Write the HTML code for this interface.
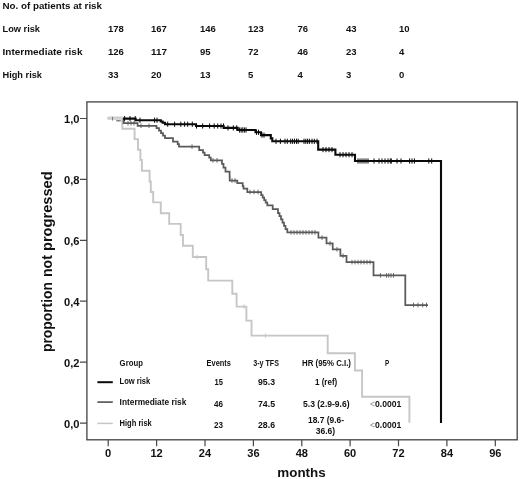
<!DOCTYPE html>
<html><head><meta charset="utf-8"><title>Kaplan-Meier</title>
<style>html,body{margin:0;padding:0;background:#fff}body{width:520px;height:479px;overflow:hidden}svg{display:block}</style>
</head><body>
<svg width="520" height="479" viewBox="0 0 520 479" font-family="Liberation Sans, Arial, sans-serif">
<rect x="0" y="0" width="520" height="479" fill="#fff"/>
<rect x="86.9" y="101.9" width="430.3" height="337.9" fill="none" stroke="#484848" stroke-width="1.35"/>
<path d="M80,118.5H86.9M80,179.4H86.9M80,240.3H86.9M80,301.2H86.9M80,362.2H86.9M80,423.1H86.9M108.2,439.8V446.2M156.6,439.8V446.2M205.0,439.8V446.2M253.4,439.8V446.2M301.8,439.8V446.2M350.1,439.8V446.2M398.5,439.8V446.2M446.9,439.8V446.2M495.3,439.8V446.2" stroke="#484848" stroke-width="1.2" fill="none"/>
<path d="M108.2,118.4 L122.3,118.4 L122.3,128.8 L134.6,128.8 L134.6,139.1 L138.0,139.1 L138.0,149.8 L140.4,149.8 L140.4,160.0 L141.9,160.0 L141.9,170.8 L149.6,170.8 L149.6,181.5 L150.8,181.5 L150.8,192.0 L153.2,192.0 L153.2,202.4 L160.8,202.4 L160.8,213.2 L169.2,213.2 L169.2,223.9 L180.7,223.9 L180.7,235.0 L183.0,235.0 L183.0,245.8 L192.8,245.8 L192.8,257.0 L206.2,257.0 L206.2,269.3 L208.2,269.3 L208.2,280.6 L232.3,280.6 L232.3,293.8 L236.6,293.8 L236.6,306.6 L246.4,306.6 L246.4,320.6 L251.5,320.6 L251.5,335.6 L327.7,335.6 L327.7,353.2 L354.9,353.2 L354.9,370.5 L362.1,370.5 L362.1,396.7 L409.4,396.7 L409.4,422.8" fill="none" stroke="#c6c6c6" stroke-width="1.9" stroke-linejoin="miter"/>
<path d="M197.0,254.8V259.2M244.0,304.4V308.8M265.4,333.4V337.8" fill="none" stroke="#c6c6c6" stroke-width="1"/>
<path d="M108.6,118.2H122.5" stroke="#cfcfcf" stroke-width="3.2" fill="none" stroke-linecap="round"/>
<path d="M112.6,116.8V120.6" stroke="#777" stroke-width="1" fill="none"/>
<path d="M116.2,120.8H120.8" stroke="#666" stroke-width="1.2" fill="none"/>
<path d="M123.6,118.4 L123.6,123.2 L137.6,123.2 L137.6,125.8 L156.5,125.8 L156.5,128.0 L159.0,128.0 L159.0,130.5 L161.0,130.5 L161.0,133.0 L163.0,133.0 L163.0,135.5 L165.0,135.5 L165.0,138.0 L173.0,138.0 L173.0,141.5 L177.7,141.5 L177.7,144.0 L179.0,144.0 L179.0,146.6 L199.2,146.6 L199.2,150.0 L203.0,150.0 L203.0,152.5 L204.6,152.5 L204.6,155.0 L209.2,155.0 L209.2,157.5 L210.8,157.5 L210.8,160.3 L222.0,160.3 L222.0,163.8 L223.5,163.8 L223.5,167.5 L225.5,167.5 L225.5,171.5 L229.6,171.5 L229.6,176.0 L229.7,176.0 L229.7,180.5 L237.3,180.5 L237.3,183.2 L242.7,183.2 L242.7,186.0 L243.5,186.0 L243.5,188.5 L247.3,188.5 L247.3,192.0 L261.2,192.0 L261.2,195.0 L262.7,195.0 L262.7,197.5 L264.2,197.5 L264.2,200.0 L265.7,200.0 L265.7,202.7 L267.3,202.7 L267.3,205.4 L272.7,205.4 L272.7,209.2 L278.0,209.2 L278.0,213.0 L279.5,213.0 L279.5,216.2 L281.0,216.2 L281.0,219.4 L282.5,219.4 L282.5,222.6 L284.0,222.6 L284.0,225.8 L285.5,225.8 L285.5,229.0 L287.3,229.0 L287.3,232.4 L318.4,232.4 L318.4,237.6 L326.5,237.6 L326.5,243.4 L332.7,243.4 L332.7,249.3 L340.4,249.3 L340.4,255.8 L346.5,255.8 L346.5,262.1 L373.5,262.1 L373.5,275.4 L405.3,275.4 L405.3,305.0 L428.0,305.0" fill="none" stroke="#5a5a5a" stroke-width="1.75"/>
<path d="M128.0,120.9V125.5M131.0,120.9V125.5M134.0,120.9V125.5M141.0,123.5V128.1M149.0,123.5V128.1M192.0,144.3V148.9M213.0,158.0V162.6M217.0,158.0V162.6M232.0,178.2V182.8M235.0,178.2V182.8M250.0,189.7V194.3M254.0,189.7V194.3M258.0,189.7V194.3M291.0,230.1V234.7M294.0,230.1V234.7M297.0,230.1V234.7M300.0,230.1V234.7M303.0,230.1V234.7M306.0,230.1V234.7M309.0,230.1V234.7M312.0,230.1V234.7M315.0,230.1V234.7M322.0,235.3V239.9M330.0,241.1V245.7M337.0,247.0V251.6M343.0,253.5V258.1M352.0,259.8V264.4M355.0,259.8V264.4M358.0,259.8V264.4M361.0,259.8V264.4M364.0,259.8V264.4M367.0,259.8V264.4M370.0,259.8V264.4M380.4,273.1V277.7M386.5,273.1V277.7M388.7,273.1V277.7M391.0,273.1V277.7M393.5,273.1V277.7M413.5,302.7V307.3M418.0,302.7V307.3M422.7,302.7V307.3M426.5,302.7V307.3" fill="none" stroke="#5a5a5a" stroke-width="0.9"/>
<path d="M123.0,118.6 L135.6,118.6 L135.6,120.2 L160.8,120.2 L160.8,121.5 L162.6,121.5 L162.6,122.8 L165.0,122.8 L165.0,124.2 L196.0,124.2 L196.0,126.0 L223.6,126.0 L223.6,127.9 L237.7,127.9 L237.7,130.0 L255.5,130.0 L255.5,132.3 L261.0,132.3 L261.0,135.1 L270.8,135.1 L270.8,138.4 L272.3,138.4 L272.3,141.3 L318.2,141.3 L318.2,149.6 L335.4,149.6 L335.4,154.7 L355.0,154.7 L355.0,161.0 L441.0,161.0 L441.0,423.0" fill="none" stroke="#0a0a0a" stroke-width="2.1"/>
<path d="M124.6,116.0V121.2M130.0,116.0V121.2M135.2,116.0V121.2M140.0,117.6V122.8M154.6,117.6V122.8M157.0,117.6V122.8M167.7,121.6V126.8M174.6,121.6V126.8M180.8,121.6V126.8M184.6,121.6V126.8M187.7,121.6V126.8M192.3,121.6V126.8M196.5,123.4V128.6M202.7,123.4V128.6M209.6,123.4V128.6M214.2,123.4V128.6M217.7,123.4V128.6M221.0,123.4V128.6M223.5,123.4V128.6M228.0,125.3V130.5M233.3,125.3V130.5M236.7,125.3V130.5M239.6,127.4V132.6M241.2,127.4V132.6M242.8,127.4V132.6M244.4,127.4V132.6M246.0,127.4V132.6M256.5,129.7V134.9M258.5,129.7V134.9M262.0,132.5V137.7M264.0,132.5V137.7M276.0,138.7V143.9M280.4,138.7V143.9M285.0,138.7V143.9M287.3,138.7V143.9M290.7,138.7V143.9M292.6,138.7V143.9M294.5,138.7V143.9M296.5,138.7V143.9M298.2,138.7V143.9M304.0,138.7V143.9M305.8,138.7V143.9M307.6,138.7V143.9M309.4,138.7V143.9M312.0,138.7V143.9M314.3,138.7V143.9M317.0,138.7V143.9M323.0,147.0V152.2M326.0,147.0V152.2M329.0,147.0V152.2M332.0,147.0V152.2M340.0,152.1V157.3M343.0,152.1V157.3M346.0,152.1V157.3M349.0,152.1V157.3M352.0,152.1V157.3M358.0,158.4V163.6M360.0,158.4V163.6M362.0,158.4V163.6M364.0,158.4V163.6M366.0,158.4V163.6M368.0,158.4V163.6M374.0,158.4V163.6M379.0,158.4V163.6M382.0,158.4V163.6M385.0,158.4V163.6M388.0,158.4V163.6M390.3,158.4V163.6M391.3,158.4V163.6M397.0,158.4V163.6M401.0,158.4V163.6M409.6,158.4V163.6M412.0,158.4V163.6M414.4,158.4V163.6M428.8,158.4V163.6M431.7,158.4V163.6" fill="none" stroke="#0a0a0a" stroke-width="1"/>
<path d="M97.4,382.2H112.8" stroke="#0a0a0a" stroke-width="2"/>
<path d="M97.4,402.1H112.8" stroke="#5a5a5a" stroke-width="1.7"/>
<path d="M97.4,423.4H112.8" stroke="#c6c6c6" stroke-width="1.5"/>
<text x="2.5" y="9.4" font-size="9.8" font-weight="bold" text-anchor="start" fill="#111" textLength="99.5" lengthAdjust="spacingAndGlyphs">No. of patients at risk</text>
<text x="2.5" y="32" font-size="9.8" font-weight="bold" text-anchor="start" fill="#111" textLength="37.5" lengthAdjust="spacingAndGlyphs">Low risk</text>
<text x="108" y="32" font-size="9.8" font-weight="bold" text-anchor="start" fill="#111" textLength="15.9" lengthAdjust="spacingAndGlyphs">178</text>
<text x="151" y="32" font-size="9.8" font-weight="bold" text-anchor="start" fill="#111" textLength="15.9" lengthAdjust="spacingAndGlyphs">167</text>
<text x="200" y="32" font-size="9.8" font-weight="bold" text-anchor="start" fill="#111" textLength="15.9" lengthAdjust="spacingAndGlyphs">146</text>
<text x="248" y="32" font-size="9.8" font-weight="bold" text-anchor="start" fill="#111" textLength="15.9" lengthAdjust="spacingAndGlyphs">123</text>
<text x="297.5" y="32" font-size="9.8" font-weight="bold" text-anchor="start" fill="#111" textLength="10.6" lengthAdjust="spacingAndGlyphs">76</text>
<text x="346" y="32" font-size="9.8" font-weight="bold" text-anchor="start" fill="#111" textLength="10.6" lengthAdjust="spacingAndGlyphs">43</text>
<text x="399" y="32" font-size="9.8" font-weight="bold" text-anchor="start" fill="#111" textLength="10.6" lengthAdjust="spacingAndGlyphs">10</text>
<text x="2.5" y="55" font-size="9.8" font-weight="bold" text-anchor="start" fill="#111" textLength="80" lengthAdjust="spacingAndGlyphs">Intermediate risk</text>
<text x="108" y="55" font-size="9.8" font-weight="bold" text-anchor="start" fill="#111" textLength="15.9" lengthAdjust="spacingAndGlyphs">126</text>
<text x="151" y="55" font-size="9.8" font-weight="bold" text-anchor="start" fill="#111" textLength="15.9" lengthAdjust="spacingAndGlyphs">117</text>
<text x="200" y="55" font-size="9.8" font-weight="bold" text-anchor="start" fill="#111" textLength="10.6" lengthAdjust="spacingAndGlyphs">95</text>
<text x="248" y="55" font-size="9.8" font-weight="bold" text-anchor="start" fill="#111" textLength="10.6" lengthAdjust="spacingAndGlyphs">72</text>
<text x="297.5" y="55" font-size="9.8" font-weight="bold" text-anchor="start" fill="#111" textLength="10.6" lengthAdjust="spacingAndGlyphs">46</text>
<text x="346" y="55" font-size="9.8" font-weight="bold" text-anchor="start" fill="#111" textLength="10.6" lengthAdjust="spacingAndGlyphs">23</text>
<text x="399" y="55" font-size="9.8" font-weight="bold" text-anchor="start" fill="#111" textLength="5.3" lengthAdjust="spacingAndGlyphs">4</text>
<text x="2.5" y="78" font-size="9.8" font-weight="bold" text-anchor="start" fill="#111" textLength="39.5" lengthAdjust="spacingAndGlyphs">High risk</text>
<text x="108" y="78" font-size="9.8" font-weight="bold" text-anchor="start" fill="#111" textLength="10.6" lengthAdjust="spacingAndGlyphs">33</text>
<text x="151" y="78" font-size="9.8" font-weight="bold" text-anchor="start" fill="#111" textLength="10.6" lengthAdjust="spacingAndGlyphs">20</text>
<text x="200" y="78" font-size="9.8" font-weight="bold" text-anchor="start" fill="#111" textLength="10.6" lengthAdjust="spacingAndGlyphs">13</text>
<text x="248" y="78" font-size="9.8" font-weight="bold" text-anchor="start" fill="#111" textLength="5.3" lengthAdjust="spacingAndGlyphs">5</text>
<text x="297.5" y="78" font-size="9.8" font-weight="bold" text-anchor="start" fill="#111" textLength="5.3" lengthAdjust="spacingAndGlyphs">4</text>
<text x="346" y="78" font-size="9.8" font-weight="bold" text-anchor="start" fill="#111" textLength="5.3" lengthAdjust="spacingAndGlyphs">3</text>
<text x="399" y="78" font-size="9.8" font-weight="bold" text-anchor="start" fill="#111" textLength="5.3" lengthAdjust="spacingAndGlyphs">0</text>
<text x="64" y="123.2" font-size="10.8" font-weight="bold" text-anchor="start" fill="#111" textLength="15.5" lengthAdjust="spacingAndGlyphs">1,0</text>
<text x="64" y="184.1" font-size="10.8" font-weight="bold" text-anchor="start" fill="#111" textLength="15.5" lengthAdjust="spacingAndGlyphs">0,8</text>
<text x="64" y="245.0" font-size="10.8" font-weight="bold" text-anchor="start" fill="#111" textLength="15.5" lengthAdjust="spacingAndGlyphs">0,6</text>
<text x="64" y="305.9" font-size="10.8" font-weight="bold" text-anchor="start" fill="#111" textLength="15.5" lengthAdjust="spacingAndGlyphs">0,4</text>
<text x="64" y="366.9" font-size="10.8" font-weight="bold" text-anchor="start" fill="#111" textLength="15.5" lengthAdjust="spacingAndGlyphs">0,2</text>
<text x="64" y="427.8" font-size="10.8" font-weight="bold" text-anchor="start" fill="#111" textLength="15.5" lengthAdjust="spacingAndGlyphs">0,0</text>
<text x="108.2" y="457.1" font-size="10.5" font-weight="bold" text-anchor="middle" fill="#111" textLength="6.2" lengthAdjust="spacingAndGlyphs">0</text>
<text x="156.6" y="457.1" font-size="10.5" font-weight="bold" text-anchor="middle" fill="#111" textLength="12.3" lengthAdjust="spacingAndGlyphs">12</text>
<text x="205.0" y="457.1" font-size="10.5" font-weight="bold" text-anchor="middle" fill="#111" textLength="12.3" lengthAdjust="spacingAndGlyphs">24</text>
<text x="253.4" y="457.1" font-size="10.5" font-weight="bold" text-anchor="middle" fill="#111" textLength="12.3" lengthAdjust="spacingAndGlyphs">36</text>
<text x="301.8" y="457.1" font-size="10.5" font-weight="bold" text-anchor="middle" fill="#111" textLength="12.3" lengthAdjust="spacingAndGlyphs">48</text>
<text x="350.1" y="457.1" font-size="10.5" font-weight="bold" text-anchor="middle" fill="#111" textLength="12.3" lengthAdjust="spacingAndGlyphs">60</text>
<text x="398.5" y="457.1" font-size="10.5" font-weight="bold" text-anchor="middle" fill="#111" textLength="12.3" lengthAdjust="spacingAndGlyphs">72</text>
<text x="446.9" y="457.1" font-size="10.5" font-weight="bold" text-anchor="middle" fill="#111" textLength="12.3" lengthAdjust="spacingAndGlyphs">84</text>
<text x="495.3" y="457.1" font-size="10.5" font-weight="bold" text-anchor="middle" fill="#111" textLength="12.3" lengthAdjust="spacingAndGlyphs">96</text>
<text x="277.3" y="476.5" font-size="13.4" font-weight="bold" text-anchor="start" fill="#111" textLength="48.4" lengthAdjust="spacingAndGlyphs">months</text>
<text transform="translate(52.1,352) rotate(-90)" font-size="14.4" font-weight="bold" fill="#111"><tspan x="0" textLength="70" lengthAdjust="spacingAndGlyphs">proportion</tspan> <tspan x="75" textLength="21.8" lengthAdjust="spacingAndGlyphs">not</tspan> <tspan x="101" textLength="79.6" lengthAdjust="spacingAndGlyphs">progressed</tspan></text>
<text x="119.6" y="365.9" font-size="8.6" font-weight="bold" text-anchor="start" fill="#111" textLength="23.3" lengthAdjust="spacingAndGlyphs">Group</text>
<text x="206.6" y="365.9" font-size="8.6" font-weight="bold" text-anchor="start" fill="#111" textLength="24.4" lengthAdjust="spacingAndGlyphs">Events</text>
<text x="253.2" y="365.9" font-size="8.6" font-weight="bold" text-anchor="start" fill="#111" textLength="25.8" lengthAdjust="spacingAndGlyphs">3-y TFS</text>
<text x="302" y="366" font-size="8.6" font-weight="bold" text-anchor="start" fill="#111" textLength="49" lengthAdjust="spacingAndGlyphs">HR (95% C.I.)</text>
<text x="384.9" y="366" font-size="8.6" font-weight="bold" text-anchor="start" fill="#111" textLength="4.2" lengthAdjust="spacingAndGlyphs">P</text>
<text x="119.6" y="383.8" font-size="8.6" font-weight="bold" text-anchor="start" fill="#111" textLength="30.7" lengthAdjust="spacingAndGlyphs">Low risk</text>
<text x="119.6" y="404.6" font-size="8.6" font-weight="bold" text-anchor="start" fill="#111" textLength="66.7" lengthAdjust="spacingAndGlyphs">Intermediate risk</text>
<text x="119.6" y="425.5" font-size="8.6" font-weight="bold" text-anchor="start" fill="#111" textLength="32.2" lengthAdjust="spacingAndGlyphs">High risk</text>
<text x="214.5" y="385.3" font-size="8.6" font-weight="bold" text-anchor="start" fill="#111" textLength="8.4" lengthAdjust="spacingAndGlyphs">15</text>
<text x="214" y="406.5" font-size="8.6" font-weight="bold" text-anchor="start" fill="#111" textLength="9" lengthAdjust="spacingAndGlyphs">46</text>
<text x="214" y="427.8" font-size="8.6" font-weight="bold" text-anchor="start" fill="#111" textLength="9" lengthAdjust="spacingAndGlyphs">23</text>
<text x="258" y="385.3" font-size="8.6" font-weight="bold" text-anchor="start" fill="#111" textLength="17" lengthAdjust="spacingAndGlyphs">95.3</text>
<text x="258" y="406.5" font-size="8.6" font-weight="bold" text-anchor="start" fill="#111" textLength="17" lengthAdjust="spacingAndGlyphs">74.5</text>
<text x="258" y="427.8" font-size="8.6" font-weight="bold" text-anchor="start" fill="#111" textLength="17" lengthAdjust="spacingAndGlyphs">28.6</text>
<text x="315" y="385.3" font-size="8.6" font-weight="bold" text-anchor="start" fill="#111" textLength="22.3" lengthAdjust="spacingAndGlyphs">1 (ref)</text>
<text x="303" y="406.5" font-size="8.6" font-weight="bold" text-anchor="start" fill="#111" textLength="46.6" lengthAdjust="spacingAndGlyphs">5.3 (2.9-9.6)</text>
<text x="308" y="422.6" font-size="8.6" font-weight="bold" text-anchor="start" fill="#111" textLength="36" lengthAdjust="spacingAndGlyphs">18.7 (9.6-</text>
<text x="315.7" y="433.6" font-size="8.6" font-weight="bold" text-anchor="start" fill="#111" textLength="19.5" lengthAdjust="spacingAndGlyphs">36.6)</text>
<text x="370" y="406.5" font-size="8.6" font-weight="bold" text-anchor="start" fill="#111" textLength="31.4" lengthAdjust="spacingAndGlyphs"><tspan fill="#888" font-weight="normal">&lt;</tspan>0.0001</text>
<text x="370" y="427.8" font-size="8.6" font-weight="bold" text-anchor="start" fill="#111" textLength="31.4" lengthAdjust="spacingAndGlyphs"><tspan fill="#888" font-weight="normal">&lt;</tspan>0.0001</text>
</svg>
</body></html>
